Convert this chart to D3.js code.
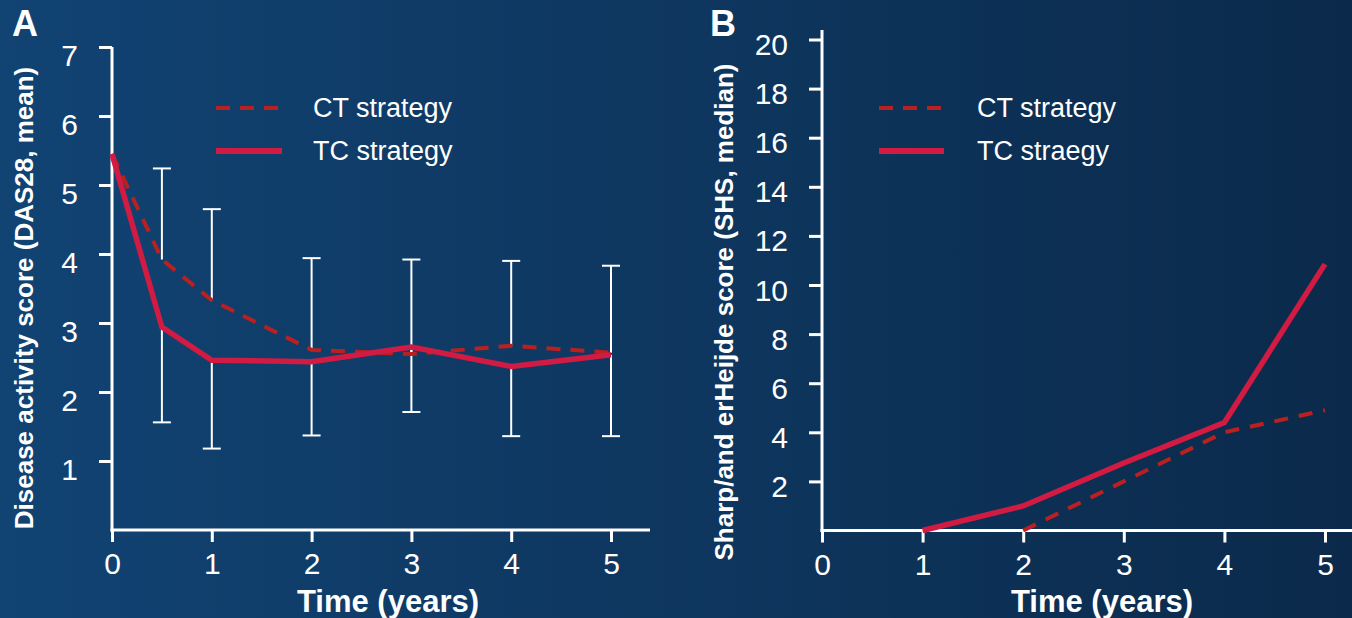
<!DOCTYPE html>
<html>
<head>
<meta charset="utf-8">
<script src="https://cdn.jsdelivr.net/npm/d3@7"></script>
<style>
  html, body { margin: 0; padding: 0; background: #0e3a66; }
  svg { display: block; }
  text { font-family: Arial, "Liberation Sans", sans-serif; fill: #ffffff; }
</style>
</head>
<body>
<svg id="chart" width="1352" height="618"></svg>
<script>
// Panel A: disease activity (DAS28, mean) over time
const timesA = [0, 0.5, 1, 2, 3, 4, 5];
const das28CT = [5.45, 3.92, 3.33, 2.61, 2.55, 2.67, 2.57];
const das28TC = [5.45, 2.94, 2.46, 2.44, 2.65, 2.37, 2.54];
// SD whiskers: upper from CT mean, lower from TC mean
const sdTimes = [0.5, 1, 2, 3, 4, 5];
const das28Upper = [5.24, 4.65, 3.94, 3.92, 3.90, 3.83];
const das28Lower = [1.56, 1.18, 1.37, 1.71, 1.36, 1.36];

// Panel B: radiographic progression (SHS, median)
const timesCT_B = [2, 3, 4, 5];
const shsCT = [0, 2.0, 4.0, 4.9];
const timesTC_B = [1, 2, 3, 4, 5];
const shsTC = [0, 1.0, 2.75, 4.4, 10.85];

// Axis ticks and labels
const xTicks = [0, 1, 2, 3, 4, 5];
const yTicksA = [1, 2, 3, 4, 5, 6, 7];
const yTicksB = [2, 4, 6, 8, 10, 12, 14, 16, 18, 20];
const legendLabelsA = ["CT strategy", "TC strategy"];
const legendLabelsB = ["CT strategy", "TC straegy"];

const svg = d3.select("#chart");

// background gradient
const defs = svg.append("defs");
const grad = defs.append("linearGradient").attr("id", "bg")
  .attr("x1", "0%").attr("y1", "0%").attr("x2", "100%").attr("y2", "0%");
grad.append("stop").attr("offset", "0%").attr("stop-color", "#114373");
grad.append("stop").attr("offset", "100%").attr("stop-color", "#0b2a4b");
svg.append("rect").attr("width", 1352).attr("height", 618).attr("fill", "url(#bg)");

const SOLID = "#d21b42";
const DASHED = "#bb2020";
const intFmt = d3.format("d");

function drawPanel(cfg) {
  const g = svg.append("g");
  const x = d3.scaleLinear().domain([0, 5]).range(cfg.xRange);
  const y = d3.scaleLinear().domain(cfg.yDomain).range(cfg.yRange);

  // y axis
  const yAxis = d3.axisLeft(y).tickValues(cfg.yTicks).tickFormat(intFmt)
    .tickSize(13).tickPadding(21).tickSizeOuter(0);
  const ya = g.append("g").attr("transform", `translate(${x(0)},0)`).call(yAxis);
  ya.select(".domain").remove();
  ya.selectAll(".tick line").attr("stroke", "#fff").attr("stroke-width", 3);
  ya.selectAll(".tick text").attr("font-size", 30).attr("dy", cfg.yLabelDy)
    .style("font-family", "Arial, 'Liberation Sans', sans-serif").attr("fill", "#fff");

  // x axis
  const xAxis = d3.axisBottom(x).tickValues(xTicks).tickFormat(intFmt)
    .tickSize(12).tickPadding(11).tickSizeOuter(0);
  const xa = g.append("g").attr("transform", `translate(0,${y(0)})`).call(xAxis);
  xa.select(".domain").remove();
  xa.selectAll(".tick line").attr("stroke", "#fff").attr("stroke-width", 3);
  xa.selectAll(".tick text").attr("font-size", 30)
    .style("font-family", "Arial, 'Liberation Sans', sans-serif").attr("fill", "#fff");

  // axis lines
  g.append("line").attr("x1", x(0)).attr("x2", x(0))
    .attr("y1", cfg.yAxisTop).attr("y2", y(0) + 1.5)
    .attr("stroke", "#fff").attr("stroke-width", 3);
  g.append("line").attr("x1", x(0) - 1.5).attr("x2", cfg.xAxisEnd)
    .attr("y1", y(0)).attr("y2", y(0))
    .attr("stroke", "#fff").attr("stroke-width", 3);

  // titles
  g.append("text").attr("x", cfg.xTitleX).attr("y", 612)
    .attr("text-anchor", "middle").attr("font-size", 31).attr("font-weight", "bold")
    .text("Time (years)");
  g.append("text")
    .attr("transform", `translate(${cfg.yTitleX},${cfg.yTitleY}) rotate(-90)`)
    .attr("text-anchor", "middle").attr("font-size", 26).attr("font-weight", "bold")
    .text(cfg.yTitle);
  g.append("text").attr("x", cfg.letterX).attr("y", 36)
    .attr("font-size", 36).attr("font-weight", "bold").text(cfg.letter);

  return { g, x, y };
}

// ---------- Panel A ----------
const A = drawPanel({
  xRange: [112, 611], yDomain: [0, 7], yRange: [530, 47],
  yTicks: yTicksA, yAxisTop: 47, xAxisEnd: 650, yLabelDy: "0.62em",
  xTitleX: 388, yTitleX: 33, yTitleY: 298,
  yTitle: "Disease activity score (DAS28, mean)", letter: "A", letterX: 12
});

// SD whiskers
const whiskers = A.g.append("g").attr("stroke", "#fff").attr("stroke-width", 2);
sdTimes.forEach((t, i) => {
  const iMean = timesA.indexOf(t);
  const xp = A.x(t);
  const yTop = A.y(das28Upper[i]);
  const yBot = A.y(das28Lower[i]);
  whiskers.append("line").attr("x1", xp).attr("x2", xp)
    .attr("y1", yTop).attr("y2", A.y(das28CT[iMean]));
  whiskers.append("line").attr("x1", xp).attr("x2", xp)
    .attr("y1", A.y(das28TC[iMean])).attr("y2", yBot);
  whiskers.append("line").attr("x1", xp - 9).attr("x2", xp + 9).attr("y1", yTop).attr("y2", yTop);
  whiskers.append("line").attr("x1", xp - 9).attr("x2", xp + 9).attr("y1", yBot).attr("y2", yBot);
});

const lineA = d3.line().x(d => A.x(d[0])).y(d => A.y(d[1]));
A.g.append("path").datum(timesA.map((t, i) => [t, das28CT[i]]))
  .attr("d", lineA).attr("fill", "none").attr("stroke", DASHED)
  .attr("stroke-width", 4).attr("stroke-dasharray", "14 10");
A.g.append("path").datum(timesA.map((t, i) => [t, das28TC[i]]))
  .attr("d", lineA).attr("fill", "none").attr("stroke", SOLID)
  .attr("stroke-width", 5.5).attr("stroke-linejoin", "miter");

// ---------- Panel B ----------
const B = drawPanel({
  xRange: [822, 1325], yDomain: [0, 20], yRange: [530.5, 39.5],
  yTicks: yTicksB, yAxisTop: 30, xAxisEnd: 1352, yLabelDy: "0.5em",
  xTitleX: 1102, yTitleX: 733, yTitleY: 312,
  yTitle: "Sharp/and erHeijde score (SHS, median)", letter: "B", letterX: 710
});

const lineB = d3.line().x(d => B.x(d[0])).y(d => B.y(d[1]));
B.g.append("path").datum(timesCT_B.map((t, i) => [t, shsCT[i]]))
  .attr("d", lineB).attr("fill", "none").attr("stroke", DASHED)
  .attr("stroke-width", 4).attr("stroke-dasharray", "14 11");
B.g.append("path").datum(timesTC_B.map((t, i) => [t, shsTC[i]]))
  .attr("d", lineB).attr("fill", "none").attr("stroke", SOLID)
  .attr("stroke-width", 5.5);

// ---------- Legends ----------
function legend(panel, x0, x1, xText, labels) {
  const lg = panel.g.append("g");
  lg.append("line").attr("x1", x0).attr("x2", x1).attr("y1", 108).attr("y2", 108)
    .attr("stroke", DASHED).attr("stroke-width", 4).attr("stroke-dasharray", "14 10");
  lg.append("line").attr("x1", x0).attr("x2", x1).attr("y1", 151).attr("y2", 151)
    .attr("stroke", SOLID).attr("stroke-width", 6);
  lg.append("text").attr("x", xText).attr("y", 117).attr("font-size", 27).text(labels[0]);
  lg.append("text").attr("x", xText).attr("y", 160).attr("font-size", 27).text(labels[1]);
}
legend(A, 216, 282, 313, legendLabelsA);
legend(B, 879, 944, 977, legendLabelsB);
</script>
</body>
</html>
